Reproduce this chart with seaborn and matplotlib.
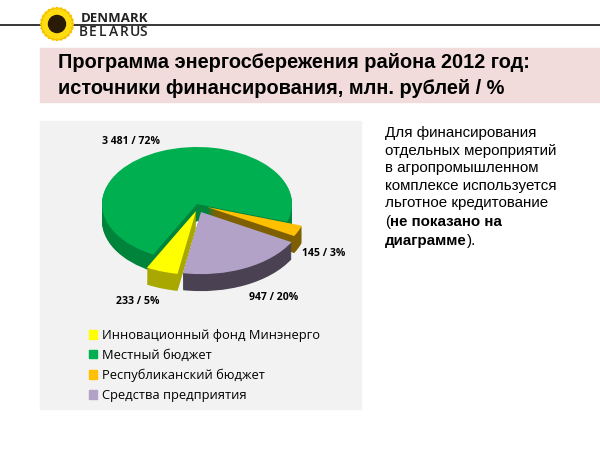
import matplotlib
matplotlib.use("Agg")
import matplotlib.pyplot as plt
from matplotlib.patches import Ellipse, Rectangle, Circle
import numpy as np
import seaborn as sns

sources = ["Инновационный фонд Минэнерго", "Местный бюджет", "Республиканский бюджет", "Средства предприятия"]
amounts = [233, 3481, 145, 947]
shares = [5, 72, 3, 20]
top_colors = ["#FFFF00", "#00B050", "#FFC000", "#B2A2C7"]
side_colors = ["#A8A800", "#00843C", "#7F6000", "#4A4152"]
# slices pulled away from the centre, in px on the page
shift_px = [(-1, 7), (0, 0), (10, 3), (4, 8)]
radius = [1.12, 1.0, 1.05, 1.09]
draw_order = [1, 0, 3, 2]

title_lines = ["Программа энергосбережения района 2012 год:", "источники финансирования, млн. рублей / %"]
note_lines = ["Для финансирования", "отдельных мероприятий", "в агропромышленном", "комплексе используется", "льготное кредитование"]

label_pos = [(138, 302), (131, 142), (324, 253), (274, 297)]

sns.set_theme(style="white")
plt.rcParams["font.family"] = ["Open Sans", "DejaVu Sans"]

fig = plt.figure(figsize=(6, 4.5), dpi=100)
bg = fig.add_axes([0, 0, 1, 1])
bg.set_xlim(0, 600)
bg.set_ylim(450, 0)
bg.axis("off")

# page furniture
bg.plot([0, 600], [25, 25], color="black", lw=1.1, zorder=1)
bg.add_patch(Rectangle((40, 48), 559, 54, color="#F2DCDB", zorder=1))
bg.add_patch(Rectangle((40, 121), 321, 288, color="#F2F2F2", zorder=1))

# sunflower
for a in np.arange(0, 180, 15):
    bg.add_patch(Ellipse((57, 24), 33, 9, angle=a, color="#F5C400", zorder=3))
for a in np.arange(7, 180, 15):
    bg.add_patch(Ellipse((57, 24), 29, 7, angle=a, color="#FFDD10", zorder=4))
bg.add_patch(Circle((57, 24), 8.5, color="#2A1A08", zorder=5))

bg.text(81, 18, "DENMARK", fontsize=9.5, fontweight="bold", color="#222222", va="center", family="Open Sans", zorder=6)
for i, letter in enumerate("BELARUS"):
    bg.text(79 + i * 10.1, 32, letter, fontsize=10, color="#222222", va="center", family="Open Sans", zorder=6, fontweight="semibold")

for i, line in enumerate(title_lines):
    bg.text(58, 63 + i * 25, line, fontsize=14.4, fontweight="bold", family="Liberation Sans", color="black", va="center")

for i, line in enumerate(note_lines):
    bg.text(385, 133 + i * 17.6, line, fontsize=10.9, family="Liberation Sans", color="black", va="center")
bg.text(385, 222, "(", fontsize=10.9, family="Liberation Sans", va="center", color="black")
bg.text(390, 222, "не показано на", fontsize=10.9, family="Liberation Sans", fontweight="bold", va="center", color="black")
bg.text(385, 241, "диаграмме", fontsize=10.9, family="Liberation Sans", fontweight="bold", va="center", color="black")
bg.text(467, 241, ").", fontsize=10.9, family="Liberation Sans", va="center", color="black")

# squashed pie axes, one unit = 95 px across and 57 px down
cx, cy, sx, sy = 197, 204, 95, 57
ax = fig.add_axes([(cx - 2 * sx) / 600, 1 - (cy + 2 * sy) / 450, 4 * sx / 600, 4 * sy / 450])
ax.patch.set_alpha(0)
depth = 17 / sy
layers = 18
for k in range(layers + 1):
    colors = top_colors if k == layers else side_colors
    base = -depth + depth * k / layers
    wedges, _ = ax.pie(amounts, colors=colors, startangle=260, counterclock=False,
                       center=(0, base), radius=1, wedgeprops={"linewidth": 0})
    for j, w in enumerate(wedges):
        w.set_radius(radius[j])
        w.set_center((shift_px[j][0] / sx, base - shift_px[j][1] / sy))
        w.set_zorder(10 + draw_order[j] * 100 + k)
    # most of the orange side sits behind the purple slice, only a thin edge shows
    if k < layers - 4:
        wedges[2].set_zorder(150 + k)
ax.set_aspect("auto")
ax.set_xlim(-2, 2)
ax.set_ylim(-2, 2)

for j in range(len(amounts)):
    txt = f"{amounts[j]:,} / {shares[j]}%".replace(",", " ")
    bg.text(label_pos[j][0], label_pos[j][1], txt, fontsize=7.6, fontweight="bold", family="Open Sans",
            color="black", ha="center", va="center")

handles = [Rectangle((0, 0), 1, 1, color=c) for c in top_colors]
bg.legend(handles, sources, loc="upper left", bbox_to_anchor=(89 / 600, 1 - 329 / 450), frameon=False,
          fontsize=9.3, handlelength=0.62, handleheight=0.62, handletextpad=0.42, labelspacing=0.53,
          borderpad=0, borderaxespad=0, labelcolor="black")

fig.savefig("out.png", dpi=100)
